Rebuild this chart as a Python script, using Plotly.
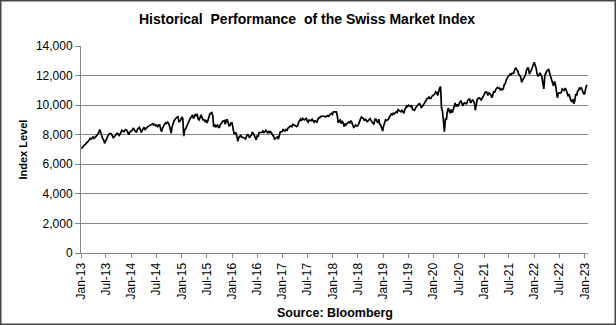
import pandas as pd
import plotly.graph_objects as go

# Weekly (Friday) closing levels of the Swiss Market Index, one list per year
smi_2013 = [7050, 7150, 7250, 7300,
            7350, 7450, 7500, 7550,
            7650, 7750, 7700, 7800, 7850,
            7750, 7800, 7900, 7950,
            8050, 8150, 8350, 8050, 7950,
            7750, 7650, 7420, 7600,
            7750, 7900, 8000, 8050,
            8100, 8050, 7950, 7800, 7850,
            7950, 8000, 8100, 8050,
            7950, 8050, 8150, 8300,
            8250, 8200, 8300, 8350, 8300,
            8100, 8000, 8150, 8250]
smi_2014 = [8250, 8350, 8450, 8300, 8200,
            8150, 8350, 8450, 8500,
            8350, 8150, 8300, 8450,
            8500, 8350, 8450, 8500,
            8550, 8600, 8650, 8700, 8750,
            8750, 8650, 8700, 8600,
            8650, 8550, 8600, 8700,
            8400, 8200, 8450, 8650, 8700,
            8800, 8750, 8850, 8800,
            8650, 8400, 8100, 8550, 8850,
            8950, 9050, 9100, 9150,
            9250, 8850, 8900, 9000]
smi_2015 = [9200, 9100, 7900, 8350, 8400,
            8550, 8750, 8950, 9000,
            9150, 9200, 9350, 9100,
            9200, 9400, 9300, 9350,
            9050, 9000, 9150, 9350, 9150,
            9000, 9000, 8900, 9000,
            8800, 8950, 9300, 9400, 9450,
            9500, 9300, 8550, 8700,
            8500, 8600, 8650, 8500,
            8500, 8700, 8750, 8900, 8950,
            8950, 8700, 9000, 9000,
            8800, 8600, 8650, 8800]
smi_2016 = [8800, 8400, 8100, 8050, 8150,
            7900, 7550, 7800, 7850,
            7950, 7850, 7850, 7800,
            7750, 7700, 7900, 8000, 7950,
            7800, 7900, 7950, 8150,
            8100, 7950, 7800, 7650,
            7950, 7850, 8150, 8150, 8150,
            8150, 8250, 8150, 8200,
            8300, 8200, 8100, 8250, 8150,
            8200, 8100, 8000, 7900,
            7700, 7750, 7750, 7850,
            7700, 8100, 8200, 8200, 8220]
smi_2017 = [8350, 8300, 8250, 8350,
            8300, 8450, 8500, 8550,
            8600, 8550, 8700, 8650, 8650,
            8600, 8550, 8600, 8850,
            9000, 9050, 8950, 9100,
            9050, 9000, 9050, 9100, 8900,
            8850, 9000, 9000, 8950,
            9050, 8900, 8850, 8950,
            8900, 8850, 9050, 9150, 9150,
            9250, 9250, 9250, 9300,
            9250, 9200, 9250, 9300,
            9250, 9350, 9400, 9450, 9380]
smi_2018 = [9550, 9550, 9600, 9550,
            9300, 8800, 8950, 9000,
            8750, 8900, 8850, 8550, 8750,
            8650, 8750, 8800, 8850,
            8800, 8950, 8850, 8700,
            8500, 8550, 8650, 8600, 8600,
            8700, 8950, 9050, 9200,
            9150, 9100, 8950, 9050, 9000,
            8850, 8950, 9050, 9100,
            8950, 8850, 8800, 8700,
            9050, 9050, 8900, 8800, 9050,
            8700, 8650, 8450, 8250]
smi_2019 = [8600, 8800, 9000, 8950,
            9000, 9050, 9200, 9300,
            9400, 9350, 9450, 9400, 9450,
            9550, 9500, 9700, 9650,
            9600, 9550, 9650, 9550, 9450,
            9700, 9800, 9950, 9900,
            10000, 9950, 9900, 10000,
            9700, 9700, 9650, 9800, 9900,
            10000, 10050, 10100, 10050,
            9800, 9950, 10000, 10100,
            10250, 10350, 10450, 10450, 10550,
            10450, 10450, 10600, 10650]
smi_2020 = [10700, 10750, 10900, 10850, 10650,
            11000, 11150, 11250, 9800,
            9600, 8950, 8200, 9100,
            9000, 9550, 9800, 9600,
            9450, 9700, 9500, 9650, 9900,
            10150, 9900, 10050, 9950,
            10050, 10200, 10300, 10150, 9950,
            10100, 10150, 10100, 10100,
            10300, 10400, 10450, 10150,
            10300, 10350, 10300, 10150, 9650,
            10200, 10400, 10450, 10500,
            10450, 10350, 10450, 10550]
smi_2021 = [10700, 10850, 10900, 10850, 10650,
            10850, 10800, 10700, 10500,
            10650, 10950, 10850, 11050,
            11100, 11200, 11150, 11150, 11000,
            11100, 11050, 11100, 11400,
            11450, 11700, 11900, 11950,
            12000, 12100, 12050, 12150, 12150,
            12200, 12450, 12500, 12400,
            12300, 12100, 12000, 11900,
            11550, 11700, 11750, 11950, 12050,
            12350, 12500, 12500, 12100,
            12250, 12350, 12550, 12700, 12900]
smi_2022 = [12700, 12500, 12100, 11950,
            12050, 12150, 12050, 11900,
            11450, 11100, 12000, 12250,
            12300, 12350, 12450, 12150, 11900,
            11600, 11500, 11300, 11600,
            11400, 11050, 10500, 10800,
            10800, 10850, 10850, 11100, 11050,
            11000, 11150, 11050, 10850,
            10600, 10750, 10500, 10300, 10250,
            10400, 10100, 10300, 10750,
            10650, 10950, 11000, 11200,
            11100, 11150, 10900, 10800, 10730]
smi_2023 = [11150, 11300, 11350]

yearly = {2013: smi_2013, 2014: smi_2014, 2015: smi_2015, 2016: smi_2016,
          2017: smi_2017, 2018: smi_2018, 2019: smi_2019, 2020: smi_2020,
          2021: smi_2021, 2022: smi_2022, 2023: smi_2023}

dates, levels = [], []
for year, vals in yearly.items():
    dates.extend(pd.date_range(f"{year}-01-01", periods=len(vals), freq="W-FRI"))
    levels.extend(vals)

y_ticks = [0, 2000, 4000, 6000, 8000, 10000, 12000, 14000]

FONT = "Liberation Sans, Arial, sans-serif"
GRID = "#868686"

fig = go.Figure(
    go.Scatter(x=dates, y=levels, mode="lines",
               line=dict(color="#000000", width=1.7), hoverinfo="skip")
)

W, H = 616, 325
L, R, T, B = 81, 28, 46, 72
pw, ph = W - L - R, H - T - B

fig.update_layout(
    width=W, height=H,
    margin=dict(l=L, r=R, t=T, b=B),
    paper_bgcolor="white", plot_bgcolor="white",
    showlegend=False,
    font=dict(family=FONT, size=12, color="#000000"),
    title=dict(text="<b>Historical&nbsp; Performance&nbsp; of the Swiss Market Index</b>",
               x=307 / W, xanchor="center",
               y=1 - 19 / H, yanchor="middle", yref="container",
               font=dict(family=FONT, size=14, color="#000000")),
    xaxis=dict(type="date", range=["2013-01-01", "2023-01-25"],
               tick0="2013-01-01", dtick="M6", tickformat="%b-%y",
               tickangle=-90, ticks="outside", ticklen=4, tickcolor=GRID,
               showline=True, linecolor=GRID, linewidth=1,
               showgrid=False, zeroline=False,
               tickfont=dict(family=FONT, size=12, color="#000000")),
    yaxis=dict(range=[0, 14000], tickvals=y_ticks, tickformat=",",
               ticks="outside", ticklen=5, tickcolor=GRID,
               showline=True, linecolor=GRID, linewidth=1,
               showgrid=True, gridcolor=GRID, gridwidth=1, zeroline=False,
               tickfont=dict(family=FONT, size=12, color="#000000")),
    annotations=[
        dict(text="<b>Index Level</b>", xref="paper", yref="paper",
             x=(22 - L) / pw, y=0.5, xanchor="center", yanchor="middle",
             textangle=-90, showarrow=False,
             font=dict(family=FONT, size=11, color="#000000")),
        dict(text="<b>Source: Bloomberg</b>", xref="paper", yref="paper",
             x=0.5, y=(H - B - 313) / ph, xanchor="center", yanchor="middle",
             showarrow=False,
             font=dict(family=FONT, size=12.5, color="#000000")),
    ],
    shapes=[
        dict(type="rect", xref="paper", yref="paper",
             x0=(0.75 - L) / pw, x1=(W - 0.75 - L) / pw,
             y0=(H - B - (H - 0.75)) / ph, y1=(H - B - 0.75) / ph,
             line=dict(color="#444444", width=1.5), fillcolor="rgba(0,0,0,0)"),
    ],
)

fig.write_html("out.html", config={"displayModeBar": False})
